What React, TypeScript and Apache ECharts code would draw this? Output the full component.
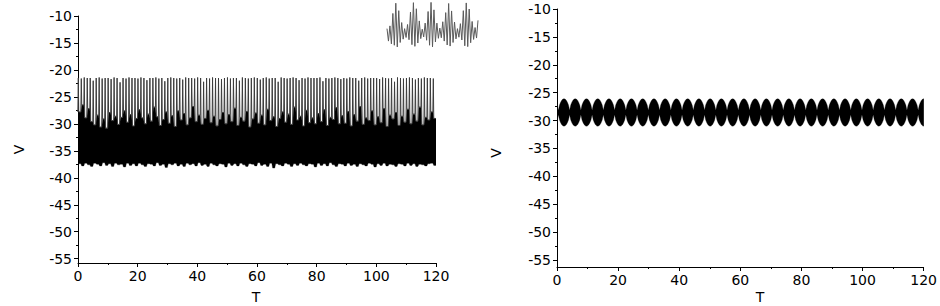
import React, { useEffect, useRef } from "react";
import * as echarts from "echarts";

// ---- data ----
// Left panel: one burst spike per unit of T
const leftTop = [
  -21.5, -21.6, -21.4, -21.5, -21.5, -22.0, -21.5, -21.4, -21.6, -21.5,
  -21.5, -21.7, -21.4, -21.5, -22.3, -21.5, -21.6, -21.4, -21.5, -21.5,
  -21.6, -21.4, -21.5, -21.9, -21.5, -21.5, -21.4, -21.6, -21.5, -22.1,
  -21.5, -21.4, -21.5, -21.6, -21.5, -21.8, -21.4, -21.5, -21.5, -21.6,
  -21.4, -21.5, -22.2, -21.5, -21.6, -21.4, -21.5, -21.5, -21.7, -21.5,
  -21.4, -21.6, -21.5, -21.5, -22.0, -21.4, -21.5, -21.6, -21.5, -21.4,
  -21.5, -21.8, -21.5, -21.4, -21.6, -21.5, -21.5, -22.2, -21.4, -21.5,
  -21.6, -21.5, -21.4, -21.5, -21.9, -21.5, -21.6, -21.4, -21.5, -21.5,
  -21.5, -21.4, -22.1, -21.5, -21.6, -21.5, -21.4, -21.5, -21.7, -21.5,
  -21.6, -21.4, -21.5, -21.5, -22.0, -21.5, -21.4, -21.6, -21.5, -21.5,
  -21.5, -21.7, -21.4, -21.5, -21.6, -21.5, -22.2, -21.4, -21.5, -21.6,
  -21.5, -21.4, -21.5, -21.8, -21.5, -21.6, -21.4, -21.5, -21.5, -21.6,
];
// upper edge of the dense (solid) part between spikes
const leftNotch = [
  -27.8, -26.5, -28.9, -27.2, -29.6, -30.2, -28.4, -30.6, -29.1, -30.8,
  -27.9, -29.4, -28.6, -30.1, -28.8, -27.6, -29.7, -28.3, -30.4, -29.0,
  -27.4, -28.9, -30.0, -28.2, -29.5, -26.9, -28.7, -30.3, -29.2, -27.8,
  -29.9, -28.5, -30.5, -27.6, -29.3, -28.1, -30.2, -28.9, -26.8, -29.6,
  -28.4, -30.1, -29.0, -27.5, -29.8, -28.6, -30.4, -29.2, -27.9, -30.0,
  -28.3, -29.6, -27.1, -30.3, -28.8, -29.5, -27.7, -30.6, -29.1, -28.0,
  -29.9, -28.4, -30.2, -27.3, -29.4, -28.7, -30.5, -29.0, -27.8, -29.7,
  -28.2, -30.1, -26.9, -29.3, -28.6, -30.4, -27.5, -29.8, -28.9, -30.0,
  -28.1, -29.6, -27.4, -30.3, -28.8, -29.2, -27.0, -30.0, -28.5, -29.9,
  -27.7, -30.4, -28.3, -29.5, -26.8, -30.1, -28.9, -29.4, -27.6, -30.2,
  -28.7, -29.8, -27.2, -30.5, -28.4, -29.1, -27.9, -30.3, -28.6, -29.7,
  -27.3, -30.0, -28.2, -29.5, -26.9, -30.2, -28.8, -29.3, -27.8, -29.0,
];
// lower edge of the trace
const leftLow = [
  -37.4, -37.8, -37.3, -37.6, -37.9, -37.3, -37.5, -37.8, -37.2, -37.7,
  -37.4, -37.9, -37.3, -37.6, -37.5, -38.0, -37.3, -37.7, -37.4, -37.8,
  -37.3, -37.6, -37.9, -37.4, -37.5, -37.8, -37.2, -37.7, -37.5, -38.1,
  -37.4, -37.6, -37.3, -37.8, -37.5, -37.9, -37.3, -37.6, -37.4, -37.8,
  -37.2, -37.7, -37.5, -37.9, -37.3, -37.6, -37.8, -37.4, -37.5, -38.0,
  -37.3, -37.7, -37.4, -37.8, -37.3, -37.6, -37.9, -37.4, -37.5, -37.8,
  -37.2, -37.7, -37.5, -37.9, -37.3, -38.2, -37.4, -37.6, -37.8, -37.3,
  -37.5, -37.9, -37.4, -37.7, -37.3, -37.6, -37.8, -37.4, -37.5, -38.0,
  -37.3, -37.7, -37.4, -37.8, -37.2, -37.6, -37.9, -37.4, -37.5, -37.8,
  -37.3, -37.7, -37.5, -37.9, -37.4, -37.6, -37.8, -37.3, -37.5, -38.0,
  -37.4, -37.7, -37.3, -37.8, -37.5, -37.6, -37.9, -37.4, -37.5, -37.8,
  -37.3, -37.7, -37.4, -37.9, -37.5, -37.6, -37.8, -37.4, -37.3, -37.7,
];
// inset: close-up of the bursting trace (successive extrema)
const insetValues = [
  -31, -35.5, -30, -36.5, -25.5, -37,
  -21.8, -37.6, -24.5, -36, -28.8, -34.8, -31, -34.2, -29.5, -35, -25, -36.8,
  -21.6, -37.4, -23.8, -36.2, -28.2, -34.6, -31.2, -34, -29, -35.2, -24.8, -37,
  -21.5, -37.6, -24.2, -35.8, -29, -34.5, -30.8, -34.3, -28.5, -35.5, -25.2, -36.9,
  -21.9, -37.3, -24.6, -36, -28.6, -34.7, -31, -34.1, -29.2, -35.1, -24.5, -37.2,
  -21.7, -37.5, -23.9, -36.1, -28.4, -34.9, -30.6, -34.4, -28,
];
// Right panel: beating envelope, one lobe profile (half height, node to node)
const lobeHalf = [0.4, 1.35, 1.85, 2.2, 2.4, 2.45, 2.4, 2.2, 1.85, 1.35, 0.4];
const lobeCenter = -28.55;
const lobePeriod = 3.68;
const lobeFirstNode = 0.45;
const lobeCount = 34;

const yMajor = [-55, -50, -45, -40, -35, -30, -25, -20, -15, -10];
const yMinor = [-52.5, -47.5, -42.5, -37.5, -32.5, -27.5, -22.5, -17.5, -12.5];

const FONT = "DejaVu Sans";

function buildLeft() {
  const band: number[][] = [];
  const spikes: number[][] = [];
  band.push([-0.05, leftNotch[0], leftLow[0]]);
  spikes.push([-0.05, leftNotch[0]]);
  for (let i = 0; i < leftTop.length; i++) {
    spikes.push([i + 0.1, leftTop[i]]);
    spikes.push([i + 0.25, leftNotch[i]]);
    spikes.push([i + 0.95, leftNotch[i]]);
    band.push([i + 0.25, leftNotch[i], leftLow[i]]);
    band.push([i + 0.95, leftNotch[i], leftLow[i]]);
  }
  const n = leftTop.length - 1;
  band.push([120.3, leftNotch[n], leftLow[n]]);
  return { band, spikes };
}

function buildRight() {
  const band: number[][] = [];
  const steps = lobeHalf.length - 1;
  for (let k = -1; k < lobeCount; k++) {
    for (let f = 0; f < steps; f++) {
      const t = lobeFirstNode + (k + f / steps) * lobePeriod;
      if (t < -0.4 || t > 120.4) continue;
      band.push([t, lobeCenter + lobeHalf[f], lobeCenter - lobeHalf[f]]);
    }
  }
  return band;
}

function bandSeries(data: number[][], xi: number, yi: number) {
  return {
    type: "custom",
    xAxisIndex: xi,
    yAxisIndex: yi,
    clip: true,
    silent: true,
    dimensions: ["t", "up", "lo"],
    encode: { x: "t", y: ["up", "lo"] },
    data,
    renderItem: (params: any, api: any) => {
      if (params.dataIndexInside !== 0) return null;
      const n = params.dataInsideLength;
      const top: number[][] = [];
      const bot: number[][] = [];
      for (let j = 0; j < n; j++) {
        const t = api.value(0, j);
        top.push(api.coord([t, api.value(1, j)]));
        bot.push(api.coord([t, api.value(2, j)]));
      }
      return {
        type: "polygon",
        shape: { points: top.concat(bot.reverse()) },
        style: { fill: "#000", stroke: "#000", lineWidth: 0.3 },
      };
    },
  };
}

function xAxisFor(gridIndex: number) {
  return {
    gridIndex,
    type: "value",
    min: 0,
    max: 120,
    interval: 20,
    axisLine: { show: true, onZero: false, lineStyle: { color: "#000", width: 1 } },
    axisTick: { show: true, length: 4, lineStyle: { color: "#000", width: 1 } },
    minorTick: { show: true, splitNumber: 2, length: 2, lineStyle: { color: "#000", width: 1 } },
    axisLabel: { fontSize: 14, color: "#000", fontFamily: FONT, margin: 6 },
    splitLine: { show: false },
    minorSplitLine: { show: false },
  };
}

function yAxesFor(gridIndex: number, min: number, nameGap: number, namePad: number) {
  return [
    {
      gridIndex,
      type: "value",
      position: "left",
      min,
      max: -10,
      axisLine: { show: true, onZero: false, lineStyle: { color: "#000", width: 1 } },
      axisTick: { show: true, length: 4, customValues: yMajor, lineStyle: { color: "#000", width: 1 } },
      axisLabel: { fontSize: 14, color: "#000", fontFamily: FONT, margin: 6, customValues: yMajor },
      splitLine: { show: false },
    },
    {
      gridIndex,
      type: "value",
      position: "left",
      offset: 0,
      min,
      max: -10,
      name: "V",
      nameLocation: "middle",
      nameRotate: 90,
      nameGap,
      nameTextStyle: { fontSize: 14, color: "#000", fontFamily: FONT, padding: [0, namePad, 0, 0] },
      axisLine: { show: false, onZero: false },
      axisTick: { show: true, length: 2, customValues: yMinor, lineStyle: { color: "#000", width: 1 } },
      axisLabel: { show: false },
      splitLine: { show: false },
    },
  ];
}

export default function App() {
  const ref = useRef<HTMLDivElement>(null);
  useEffect(() => {
    document.body.style.margin = "0";
    if (!ref.current) return;
    const chart = echarts.init(ref.current, undefined, { renderer: "svg" });
    const left = buildLeft();
    const right = buildRight();
    chart.setOption({
      animation: false,
      backgroundColor: "#fff",
      grid: [
        { left: 78, top: 16, width: 358, height: 247 },
        { left: 557, top: 9, width: 373, height: 258 },
        { left: 387, top: 1, width: 91, height: 47 },
      ],
      xAxis: [
        xAxisFor(0),
        xAxisFor(1),
        { gridIndex: 2, type: "value", min: 0, max: insetValues.length - 1, show: false },
      ],
      yAxis: [
        ...yAxesFor(0, -55.8, 52, 20),
        ...yAxesFor(1, -56.25, 54, 30),
        { gridIndex: 2, type: "value", min: -38, max: -21, show: false },
      ],
      graphic: [
        { type: "text", x: 256, y: 297, style: { text: "T", fontSize: 14, fontFamily: FONT, fill: "#000", align: "center", verticalAlign: "middle" } },
        { type: "text", x: 760, y: 297, style: { text: "T", fontSize: 14, fontFamily: FONT, fill: "#000", align: "center", verticalAlign: "middle" } },
      ],
      series: [
        bandSeries(left.band, 0, 0),
        {
          type: "line",
          xAxisIndex: 0,
          yAxisIndex: 0,
          data: left.spikes,
          symbol: "none",
          silent: true,
          z: 3,
          lineStyle: { color: "#3c3c3c", width: 1 },
        },
        bandSeries(right, 1, 2),
        {
          type: "line",
          xAxisIndex: 2,
          yAxisIndex: 4,
          data: insetValues.map((v, i) => [i, v]),
          symbol: "none",
          silent: true,
          lineStyle: { color: "#5a5a5a", width: 1 },
        },
      ],
    });
    return () => chart.dispose();
  }, []);
  return <div ref={ref} style={{ width: 940, height: 306 }} />;
}
